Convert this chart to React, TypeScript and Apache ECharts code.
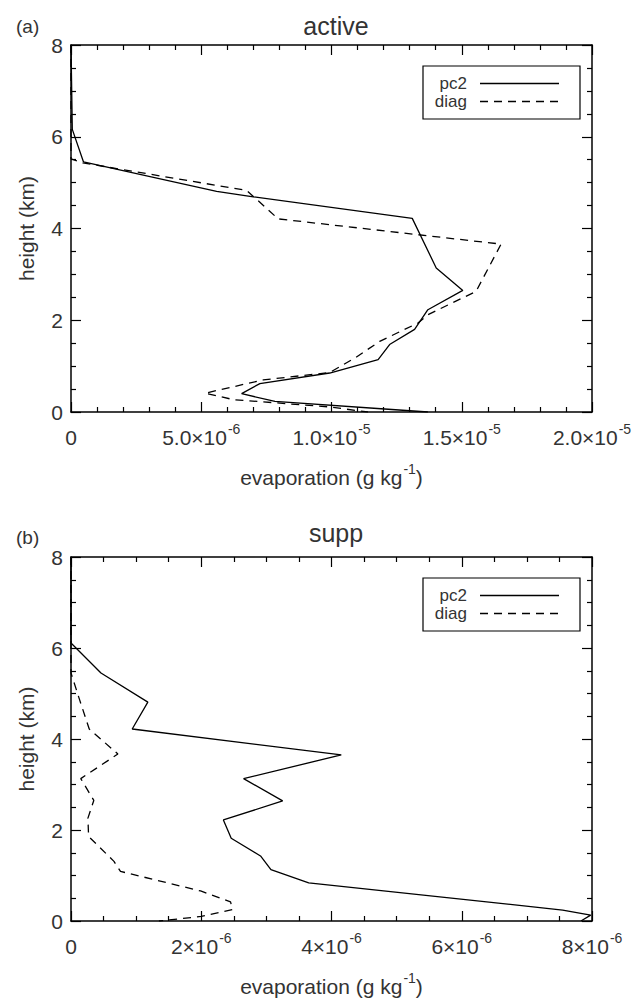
import React, { useEffect, useRef } from "react";
import * as echarts from "echarts";

// evaporation values are in units of 1e-6 g/kg; heights in km
const activePc2X = [0, 0.05, 0.48, 5.59, 7.0, 13.1, 14.02, 15.04, 13.7, 13.19, 12.23, 11.79, 9.93, 7.25, 6.55, 7.83, 12.04, 13.7];
const activePc2Y = [8.0, 6.16, 5.45, 4.81, 4.69, 4.22, 3.14, 2.65, 2.23, 1.8, 1.47, 1.14, 0.85, 0.62, 0.4, 0.23, 0.065, 0.0];
const activeDiagX = [0, 0, 0.45, 6.74, 7.0, 7.95, 16.51, 15.55, 13.7, 13.32, 11.85, 10.96, 9.93, 7.38, 5.15, 6.23, 9.93, 11.4];
const activeDiagY = [8.0, 5.52, 5.43, 4.83, 4.7, 4.21, 3.66, 2.63, 2.12, 1.94, 1.54, 1.2, 0.86, 0.7, 0.41, 0.27, 0.11, 0.0];
const suppPc2X = [0, 0, 0.46, 1.18, 0.94, 4.15, 2.65, 3.25, 2.34, 2.46, 2.91, 3.07, 3.65, 7.55, 7.98, 7.83];
const suppPc2Y = [8.0, 6.11, 5.45, 4.81, 4.22, 3.65, 3.13, 2.64, 2.22, 1.82, 1.43, 1.13, 0.84, 0.24, 0.13, 0.0];
const suppDiagX = [0, 0, 0.13, 0.28, 0.72, 0.15, 0.35, 0.26, 0.27, 0.66, 0.76, 1.99, 2.45, 2.48, 2.0, 1.35];
const suppDiagY = [8.0, 5.45, 4.87, 4.22, 3.67, 3.13, 2.65, 2.26, 1.86, 1.31, 1.09, 0.66, 0.42, 0.25, 0.1, 0.0];

const panelTitles = ["active", "supp"];
const panelTags = ["(a)", "(b)"];
const seriesNames = ["pc2", "diag"];
const xMax = [20, 8];
const xInterval = [5, 2];
const xMinorSplit = [5, 4];
const xDecimals = [1, 0];
const yTicks = { min: 0, max: 8, interval: 2 };

const FONT = "'Liberation Sans', Arial, Helvetica, sans-serif";
const TXT = "#333";

const pairs = (xs: number[], ys: number[]) => xs.map((x, i) => [x, ys[i]]);

const sciLabel = (dec: number) => (v: number) => {
  if (v === 0) return "{m|0}";
  const e = Math.floor(Math.log10(v) + 1e-9);
  const mant = v / Math.pow(10, e);
  return `{m|${mant.toFixed(dec)}×10}{s|${e - 6}}`;
};

const richLabel = {
  m: { fontSize: 21, color: TXT, fontFamily: FONT, lineHeight: 26, verticalAlign: "bottom" },
  s: { fontSize: 14, color: TXT, fontFamily: FONT, lineHeight: 26, verticalAlign: "top", padding: [0, 0, 0, 1] },
};

export default function App() {
  const ref = useRef<HTMLDivElement>(null);
  useEffect(() => {
    if (!ref.current) return;
    const chart = echarts.init(ref.current, undefined, { renderer: "svg" });
    const grids = [
      { left: 71, top: 45, width: 521, height: 367 },
      { left: 71, top: 557, width: 521, height: 366 },
    ];
    const axisLine = { show: true, onZero: false, lineStyle: { color: "#000", width: 1.5 } };
    const xAxes: any[] = [];
    const yAxes: any[] = [];
    grids.forEach((_, g) => {
      const common = {
        type: "value",
        gridIndex: g,
        min: 0,
        max: xMax[g],
        interval: xInterval[g],
        axisLine,
        splitLine: { show: false },
        axisTick: { show: true, inside: true, length: 10, lineStyle: { color: "#000", width: 1.2 } },
        minorTick: { show: true, splitNumber: xMinorSplit[g], length: 5, lineStyle: { color: "#000", width: 1.2 } },
      };
      xAxes.push({
        ...common,
        position: "bottom",
        axisLabel: {
          show: true,
          margin: 10,
          formatter: sciLabel(xDecimals[g]),
          rich: richLabel,
          showMaxLabel: true,
          showMinLabel: true,
        },
        name: "{m|evaporation (g kg}{s|-1}{m|)}",
        nameLocation: "middle",
        nameGap: 50,
        nameTextStyle: { rich: richLabel },
      });
      xAxes.push({ ...common, position: "top", axisLabel: { show: false } });
      const yc = {
        type: "value",
        gridIndex: g,
        ...yTicks,
        axisLine,
        splitLine: { show: false },
        axisTick: { show: true, inside: true, length: 10, lineStyle: { color: "#000", width: 1.2 } },
        minorTick: { show: true, splitNumber: 4, length: 5, lineStyle: { color: "#000", width: 1.2 } },
      };
      yAxes.push({
        ...yc,
        position: "left",
        axisLabel: { show: true, margin: 8, fontSize: 21, color: TXT, fontFamily: FONT },
        name: "height (km)",
        nameLocation: "middle",
        nameRotate: 90,
        nameGap: 34,
        nameTextStyle: { fontSize: 21, color: TXT, fontFamily: FONT },
      });
      yAxes.push({ ...yc, position: "right", axisLabel: { show: false } });
    });

    const data = [
      [pairs(activePc2X, activePc2Y), pairs(activeDiagX, activeDiagY)],
      [pairs(suppPc2X, suppPc2Y), pairs(suppDiagX, suppDiagY)],
    ];
    const series: any[] = [];
    data.forEach((panel, g) => {
      panel.forEach((d, k) => {
        series.push({
          type: "line",
          name: seriesNames[k],
          xAxisIndex: g * 2,
          yAxisIndex: g * 2,
          data: d,
          symbol: "none",
          lineStyle: { color: "#000", width: 1.3, type: k === 0 ? "solid" : [8, 6] },
          z: 3,
        });
      });
    });

    const graphics: any[] = [];
    grids.forEach((gr, g) => {
      const bx = 423;
      const by = gr.top + 21;
      graphics.push({
        type: "rect",
        shape: { x: bx, y: by, width: 157, height: 53 },
        style: { fill: "#fff", stroke: "#000", lineWidth: 1.2 },
        z: 10,
      });
      seriesNames.forEach((nm, k) => {
        const cy = by + 17.5 + k * 18;
        graphics.push({
          type: "text",
          x: 467,
          y: cy,
          style: { text: nm, fontSize: 17, fontFamily: FONT, fill: TXT, textAlign: "right", textVerticalAlign: "middle" },
          z: 11,
        });
        graphics.push({
          type: "line",
          shape: { x1: 480, y1: cy, x2: 559, y2: cy },
          style: { stroke: "#000", lineWidth: 1.3, lineDash: k === 0 ? null : [8, 6] },
          z: 11,
        });
      });
    });

    chart.setOption({
      animation: false,
      backgroundColor: "#fff",
      title: [
        { text: panelTitles[0], left: 331, top: 8, textAlign: "center", textStyle: { fontSize: 25, fontWeight: "normal", color: TXT, fontFamily: FONT } },
        { text: panelTitles[1], left: 331, top: 515, textAlign: "center", textStyle: { fontSize: 25, fontWeight: "normal", color: TXT, fontFamily: FONT } },
        { text: panelTags[0], left: 11, top: 12, textStyle: { fontSize: 19, fontWeight: "normal", color: TXT, fontFamily: FONT } },
        { text: panelTags[1], left: 11, top: 523, textStyle: { fontSize: 19, fontWeight: "normal", color: TXT, fontFamily: FONT } },
      ],
      grid: grids,
      xAxis: xAxes,
      yAxis: yAxes,
      series,
      graphic: graphics,
    });
    return () => chart.dispose();
  }, []);
  return <div ref={ref} style={{ position: "fixed", left: 0, top: 0, width: 637, height: 998 }} />;
}
